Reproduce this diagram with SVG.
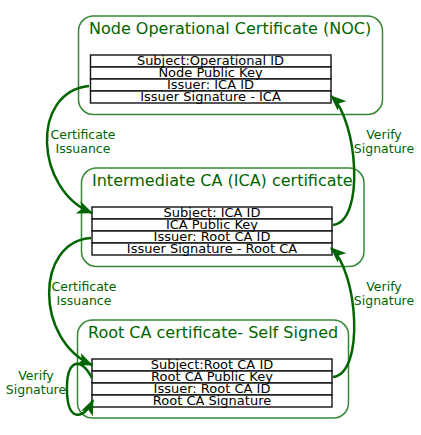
<svg xmlns="http://www.w3.org/2000/svg" width="421" height="435" viewBox="0 0 421 435">
<style>
.box{fill:#fff;stroke:#338833;stroke-width:1.5}
.title{font-family:"DejaVu Sans",sans-serif;font-size:16px;fill:#006400}
.cell{fill:#fff;stroke:#111;stroke-width:1.4}
.ct{font-family:"DejaVu Sans",sans-serif;font-size:13px;fill:#000;text-anchor:middle}
.lbl{font-family:"DejaVu Sans",sans-serif;font-size:12.5px;fill:#006400;text-anchor:middle}
.edge{fill:none;stroke:#006400;stroke-width:2.5}
</style>
<defs>
<marker id="ah" markerUnits="userSpaceOnUse" markerWidth="17" markerHeight="13" refX="15" refY="6.5" orient="auto">
<path d="M0,0 L16,6.5 L0,13 L4,6.5 z" fill="#006400"/>
</marker>
</defs>
<g id="noc">
<rect class="box" x="78.5" y="16" width="304" height="98.5" rx="15"/>
<text class="title" x="89" y="34">Node Operational Certificate (NOC)</text>
<rect class="cell" x="90.5" y="55" width="240.5" height="12"/>
<rect class="cell" x="90.5" y="67" width="240.5" height="12"/>
<rect class="cell" x="90.5" y="79" width="240.5" height="12"/>
<rect class="cell" x="90.5" y="91" width="240.5" height="12"/>
<text class="ct" x="210.5" y="65">Subject:Operational ID</text>
<text class="ct" x="210.5" y="77">Node Public Key</text>
<text class="ct" x="210.5" y="89">Issuer: ICA ID</text>
<text class="ct" x="210.5" y="101">Issuer Signature - ICA</text>
</g>
<g id="ica">
<rect class="box" x="81.5" y="168" width="282.5" height="98.5" rx="15"/>
<text class="title" x="92" y="186">Intermediate CA (ICA) certificate</text>
<rect class="cell" x="92" y="207" width="240" height="12"/>
<rect class="cell" x="92" y="219" width="240" height="12"/>
<rect class="cell" x="92" y="231" width="240" height="12"/>
<rect class="cell" x="92" y="243" width="240" height="12"/>
<text class="ct" x="212" y="217">Subject: ICA ID</text>
<text class="ct" x="212" y="229">ICA Public Key</text>
<text class="ct" x="212" y="241">Issuer: Root CA ID</text>
<text class="ct" x="212" y="253">Issuer Signature - Root CA</text>
</g>
<g id="root">
<rect class="box" x="77.5" y="320" width="271" height="98" rx="15"/>
<text class="title" x="88" y="338">Root CA certificate- Self Signed</text>
<rect class="cell" x="92" y="359" width="240" height="12"/>
<rect class="cell" x="92" y="371" width="240" height="12"/>
<rect class="cell" x="92" y="383" width="240" height="12"/>
<rect class="cell" x="92" y="395" width="240" height="12"/>
<text class="ct" x="212" y="369">Subject:Root CA ID</text>
<text class="ct" x="212" y="381">Root CA Public Key</text>
<text class="ct" x="212" y="393">Issuer: Root CA ID</text>
<text class="ct" x="212" y="405">Root CA Signature</text>
</g>
<g id="connectors">
<path class="edge" marker-end="url(#ah)" d="M89,86 C30,92 35,190 92,213"/>
<path class="edge" marker-end="url(#ah)" d="M333,225 C365,222 358,120 331,96"/>
<path class="edge" marker-end="url(#ah)" d="M91,238 C35,242 35,340 92,365"/>
<path class="edge" marker-end="url(#ah)" d="M333,377 C365,373 358,272 331,248"/>
<path class="edge" marker-end="url(#ah)" d="M92,378 C80,355 66,360 67,392 C68,422 84,420 93,400"/>
<text class="lbl" x="83" y="139">Certificate</text>
<text class="lbl" x="83" y="153">Issuance</text>
<text class="lbl" x="384" y="139">Verify</text>
<text class="lbl" x="384" y="153">Signature</text>
<text class="lbl" x="84" y="291">Certificate</text>
<text class="lbl" x="84" y="305">Issuance</text>
<text class="lbl" x="384" y="291">Verify</text>
<text class="lbl" x="384" y="305">Signature</text>
<text class="lbl" x="36" y="380">Verify</text>
<text class="lbl" x="36" y="394">Signature</text>
</g>
</svg>
